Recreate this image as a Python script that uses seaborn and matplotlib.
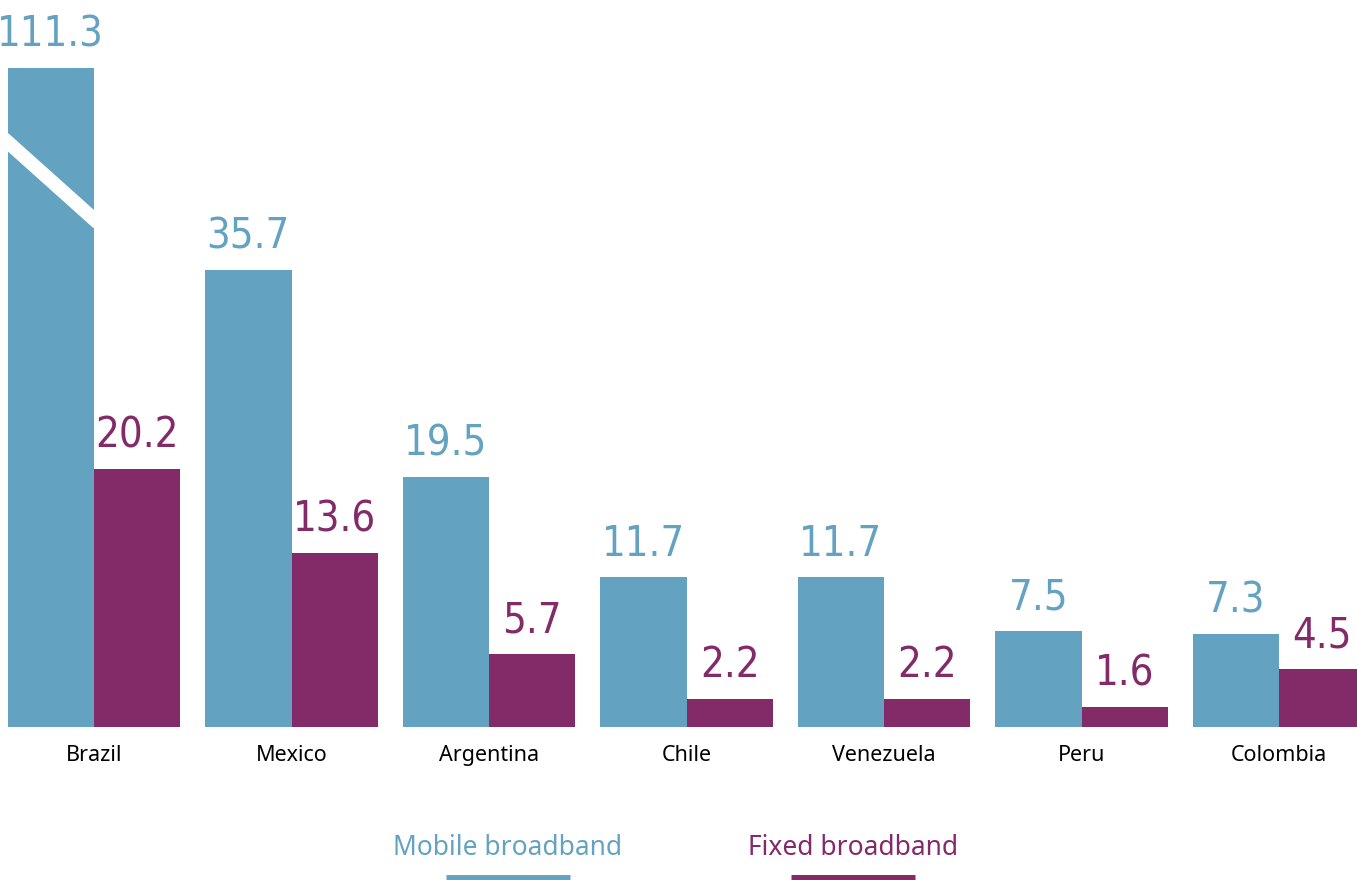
import pandas as pd
import matplotlib.pyplot as plt
import seaborn as sns
from matplotlib.lines import Line2D

# data
countries = ["Brazil", "Mexico", "Argentina", "Chile", "Venezuela", "Peru", "Colombia"]
mobile = [111.3, 35.7, 19.5, 11.7, 11.7, 7.5, 7.3]
fixed = [20.2, 13.6, 5.7, 2.2, 2.2, 1.6, 4.5]
series = ["Mobile broadband", "Fixed broadband"]

blue = "#64a2c2"
purple = "#832a68"
palette = {series[0]: blue, series[1]: purple}

df = pd.DataFrame({
    "country": countries * 2,
    "value": mobile + fixed,
    "series": [series[0]] * len(countries) + [series[1]] * len(countries),
})

sns.set_style("white")
plt.rcParams["font.family"] = ["Noto Sans", "DejaVu Sans"]

fig = plt.figure(figsize=(13.57, 8.8), dpi=100)
# axes: baseline at y=727px, top (break cap) at y=68px
ax = fig.add_axes([0, (880 - 727) / 880, 1, (727 - 68) / 880])

sns.barplot(data=df, x="country", y="value", hue="series", palette=palette,
            width=0.875, saturation=1, linewidth=0, ax=ax, legend=False)

ymax = 51.5  # Brazil mobile bar gets cut at the top of the axes
ax.set_ylim(0, ymax)
ax.set_xlim(-94 / 197.5, 6 + (1357 - 1279) / 197.5)

# value labels
for container, color in zip(ax.containers, [blue, purple]):
    for bar in container:
        h = bar.get_height()
        ax.annotate(f"{h:.1f}", (bar.get_x() + bar.get_width() / 2, min(h, ymax)),
                    xytext=(0, 9), textcoords="offset points", ha="center", va="bottom",
                    fontsize=30, color=color, family="DejaVu Sans", fontstretch="condensed",
                    annotation_clip=False)

# diagonal break on the Brazil mobile bar
b = ax.containers[0][0]
ax.plot([b.get_x() - 0.02, b.get_x() + b.get_width() + 0.02], [46.0, 39.4],
        color="white", lw=10, solid_capstyle="butt", clip_on=False)

for s in ax.spines.values():
    s.set_visible(False)
ax.set_yticks([])
ax.set_xlabel("")
ax.set_ylabel("")
ax.tick_params(axis="x", length=0, pad=13, labelsize=15.5, labelcolor="black")

# legend at bottom
for xc, label, color in [(508, series[0], blue), (853, series[1], purple)]:
    fig.text(xc / 1357, 1 - 848 / 880, label, ha="center", va="center",
             fontsize=19, color=color)
    fig.add_artist(Line2D([(xc - 62) / 1357, (xc + 62) / 1357], [1 - 878 / 880] * 2,
                          color=color, lw=5, solid_capstyle="butt"))

fig.savefig("out.png", dpi=100)
